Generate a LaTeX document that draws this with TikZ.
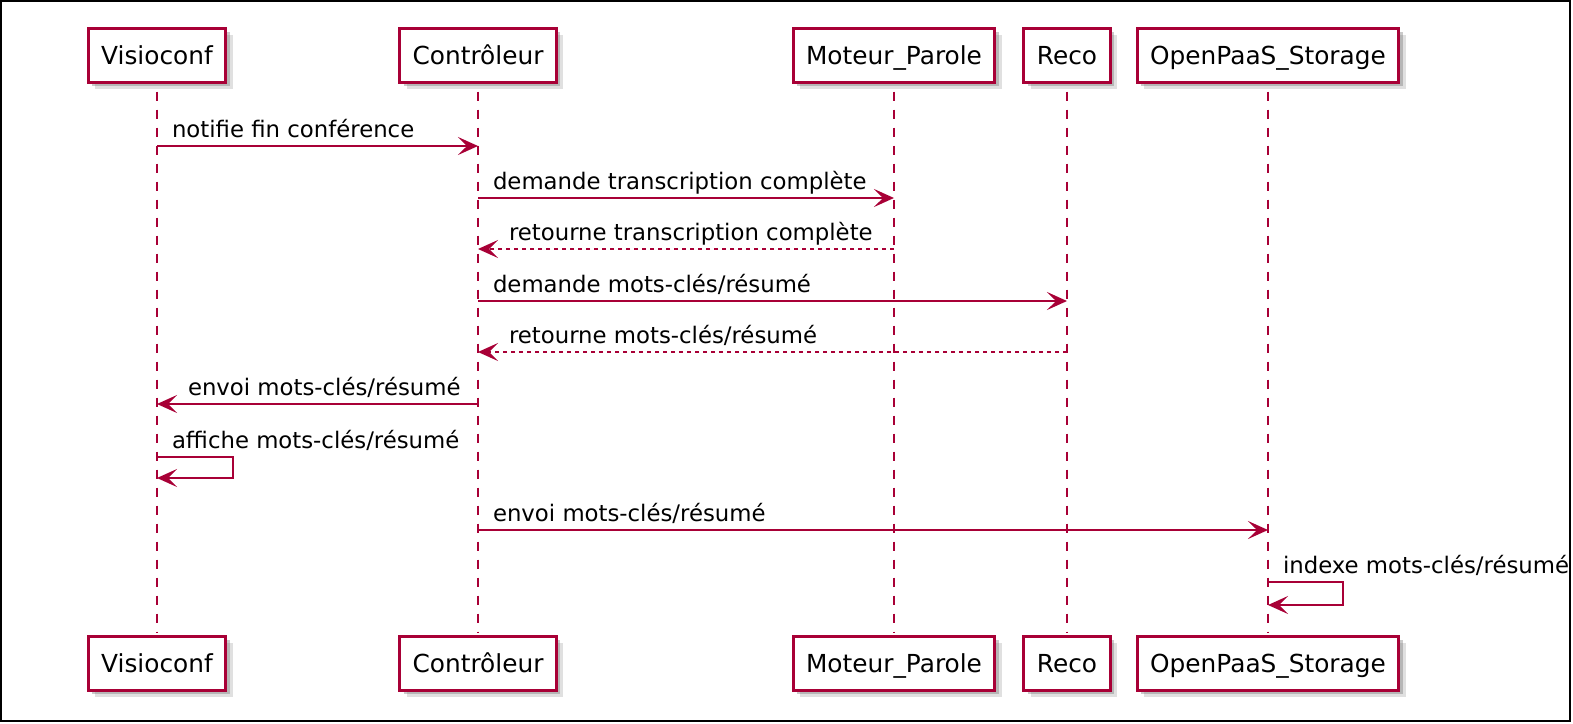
\documentclass[tikz,border=0pt]{standalone}
\usepackage{fontspec}
\setmainfont{DejaVu Sans}
\usetikzlibrary{arrows.meta,shadows}
\definecolor{plum}{HTML}{A80036}

\begin{document}
\begin{tikzpicture}[x=0.5pt,y=-0.5pt,
  actor/.style={draw=plum,line width=1.5pt,fill=white,minimum height=27pt,inner xsep=6.5pt,
    text height=9pt,text depth=0pt,font=\fontsize{12.4pt}{15pt}\selectfont,
    drop shadow={shadow xshift=3.5pt,shadow yshift=-3.5pt,opacity=.2,fill=black!60},
    drop shadow={shadow xshift=2pt,shadow yshift=-2pt,opacity=.35,fill=black!60}},
  life/.style={plum,line width=1pt,dash pattern=on 4.5pt off 4.5pt,shorten <=4pt,shorten >=1pt},
  msg/.style={plum,line width=1pt,-{Stealth[length=10pt,width=9pt,inset=4.5pt]}},
  ret/.style={msg,dash pattern=on 2pt off 2pt},
  lbl/.style={anchor=base west,inner sep=0pt,yshift=4.5pt,text=black,font=\fontsize{11.4pt}{14pt}\selectfont},
  lblr/.style={lbl,pos=0,xshift=7pt},
  lbll/.style={lbl,pos=1,xshift=15pt}]
%\draw[help lines] (0,0) grid (1573,723);
\useasboundingbox (0,0) rectangle (1573,723);
\node (v) [actor] at (157,55) {Visioconf};
\node (c) [actor] at (478,55) {Contrôleur};
\node (m) [actor] at (894,55) {Moteur\_Parole};
\node (r) [actor] at (1067,55) {Reco};
\node (s) [actor] at (1268,55) {OpenPaaS\_Storage};
\node (vb) [actor] at (157,663) {Visioconf};
\node (cb) [actor] at (478,663) {Contrôleur};
\node (mb) [actor] at (894,663) {Moteur\_Parole};
\node (rb) [actor] at (1067,663) {Reco};
\node (sb) [actor] at (1268,663) {OpenPaaS\_Storage};
\path[life]
(v) edge (vb)
(c) edge (cb)
(m) edge (mb)
(r) edge (rb)
(s) edge (sb);
\draw[msg] (v |- 0,146) -- node[lblr] {notifie fin conférence} (c |- 0,146);
\draw[msg] (c |- 0,198) -- node[lblr] {demande transcription complète} (m |- 0,198);
\draw[ret] (m |- 0,249) -- node[lbll] {retourne transcription complète} (c |- 0,249);
\draw[msg] (c |- 0,301) -- node[lblr] {demande mots-clés/résumé} (r |- 0,301);
\draw[ret] (r |- 0,352) -- node[lbll] {retourne mots-clés/résumé} (c |- 0,352);
\draw[msg] (c |- 0,404) -- node[lbll] {envoi mots-clés/résumé} (v |- 0,404);
\draw[msg] (v |- 0,457) -- node[lblr] {affiche mots-clés/résumé} ++(76,0) |- (v |- 0,478);
\draw[msg] (c |- 0,530) -- node[lblr] {envoi mots-clés/résumé} (s |- 0,530);
\draw[msg] (s |- 0,582) -- node[lblr] {indexe mots-clés/résumé} ++(75,0) |- (s |- 0,605);
\draw[line width=1pt] (1,1) rectangle (1569.5,721);
\end{tikzpicture}
\end{document}
